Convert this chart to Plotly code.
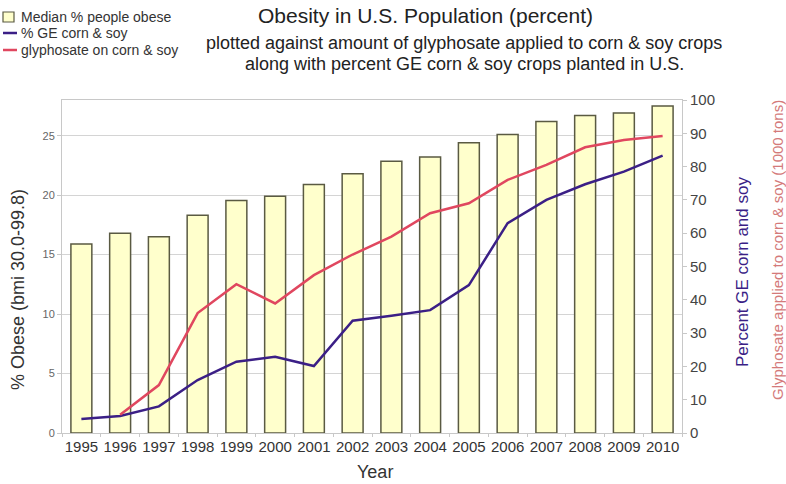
import plotly.graph_objects as go

years = [str(y) for y in range(1995, 2011)]
obese_pct = [15.9, 16.8, 16.5, 18.3, 19.55, 19.9, 20.9, 21.8,
             22.85, 23.2, 24.4, 25.1, 26.2, 26.7, 26.9, 27.5]
ge_pct = [4.2, 5.1, 8.0, 15.9, 21.4, 22.9, 20.1, 33.7,
          35.2, 36.9, 44.4, 63.0, 70.0, 74.7, 78.5, 83.3]
glyphosate_years = years[1:]
glyphosate_kt = [5.5, 14.4, 36.0, 44.7, 38.9, 47.4, 53.6, 59.0,
                 66.0, 69.0, 76.0, 80.5, 85.8, 88.0, 89.2]
series_names = ["Median % people obese", "% GE corn & soy", "glyphosate on corn & soy"]

FONT = "Liberation Sans"
PURPLE = "#3b1f86"
RED = "#e0475f"
BAR_FILL = "#ffffcc"
BAR_EDGE = "#5a5a42"

W, H = 786, 484
ML, MR, MT, MB = 62, 104, 100, 51
PW, PH = W - ML - MR, H - MT - MB


def px(x):
    """pixel column -> paper x"""
    return (x - ML) / PW


def py(y):
    """pixel row (from top) -> paper y"""
    return (H - MB - y) / PH


fig = go.Figure()
fig.add_trace(go.Bar(
    x=years, y=obese_pct, name=series_names[0],
    marker=dict(color=BAR_FILL, line=dict(color=BAR_EDGE, width=1.5)),
    yaxis="y",
))
fig.add_trace(go.Scatter(
    x=years, y=ge_pct, name=series_names[1], mode="lines",
    line=dict(color=PURPLE, width=2.5), yaxis="y2",
))
fig.add_trace(go.Scatter(
    x=glyphosate_years, y=glyphosate_kt, name=series_names[2],
    mode="lines", line=dict(color=RED, width=2.5), yaxis="y2",
))

# compact legend block in the top-left corner
legend_rows = [17, 33, 50]
shapes = [
    dict(type="rect", xref="paper", yref="paper",
         x0=px(3), x1=px(14), y0=py(22), y1=py(12),
         fillcolor=BAR_FILL, line=dict(color=BAR_EDGE, width=1.2)),
    dict(type="line", xref="paper", yref="paper",
         x0=px(3), x1=px(17), y0=py(legend_rows[1]), y1=py(legend_rows[1]),
         line=dict(color=PURPLE, width=2.5)),
    dict(type="line", xref="paper", yref="paper",
         x0=px(3), x1=px(17), y0=py(legend_rows[2]), y1=py(legend_rows[2]),
         line=dict(color=RED, width=2.5)),
]
annotations = [
    dict(text=name, xref="paper", yref="paper", x=px(19), y=py(row),
         xanchor="left", yanchor="middle", showarrow=False,
         font=dict(size=14, color="#333333"))
    for name, row in zip(series_names, legend_rows)
]

annotations += [
    dict(text="Obesity in U.S. Population (percent)",
         xref="paper", yref="paper", x=px(425), y=py(15),
         xanchor="center", yanchor="middle", showarrow=False,
         font=dict(size=21, color="#222222")),
    dict(text="plotted against amount of glyphosate applied to corn & soy crops",
         xref="paper", yref="paper", x=px(464), y=py(43),
         xanchor="center", yanchor="middle", showarrow=False,
         font=dict(size=18, color="#222222")),
    dict(text="along with percent GE corn & soy crops planted in U.S.",
         xref="paper", yref="paper", x=px(464), y=py(64),
         xanchor="center", yanchor="middle", showarrow=False,
         font=dict(size=18, color="#222222")),
    dict(text="% Obese (bmi 30.0-99.8)",
         xref="paper", yref="paper", x=px(18), y=py(290),
         xanchor="center", yanchor="middle", showarrow=False,
         textangle=-90, font=dict(size=18, color="#333333")),
    dict(text="Percent GE corn and soy",
         xref="paper", yref="paper", x=px(742), y=py(272),
         xanchor="center", yanchor="middle", showarrow=False,
         textangle=-90, font=dict(size=17, color=PURPLE)),
    dict(text="Glyphosate applied to corn & soy (1000 tons)",
         xref="paper", yref="paper", x=px(778), y=py(250),
         xanchor="center", yanchor="middle", showarrow=False,
         textangle=-90, font=dict(size=15, color="#d47a7a")),
    dict(text="Year",
         xref="paper", yref="paper", x=px(375), y=py(472),
         xanchor="center", yanchor="middle", showarrow=False,
         font=dict(size=18, color="#333333")),
]

fig.update_layout(
    width=W, height=H,
    margin=dict(l=ML, r=MR, t=MT, b=MB, autoexpand=False),
    paper_bgcolor="white", plot_bgcolor="white",
    font=dict(family=FONT, color="#333333"),
    bargap=0.46,
    showlegend=False,
    xaxis=dict(
        type="category", tickangle=0,
        showline=True, linecolor="#c8c8c8", linewidth=1, mirror=True,
        ticks="outside", tickson="boundaries", ticklen=3, tickcolor="#c8c8c8",
        tickfont=dict(size=15, color="#333333"),
        showgrid=False,
    ),
    yaxis=dict(
        range=[0, 28], dtick=5,
        showline=True, linecolor="#c8c8c8", linewidth=1,
        ticks="outside", ticklen=4, tickcolor="#c8c8c8",
        tickfont=dict(size=11, color="#666666"),
        showgrid=True, gridcolor="#d4d4d4", gridwidth=1,
        zeroline=False,
    ),
    yaxis2=dict(
        overlaying="y", side="right", range=[0, 100], dtick=10,
        showline=True, linecolor="#c8c8c8", linewidth=1,
        ticks="outside", ticklen=4, tickcolor="#c8c8c8",
        tickfont=dict(size=15, color="#444444"),
        showgrid=False, zeroline=False,
    ),
    shapes=shapes,
    annotations=annotations,
)

fig.write_html("out.html")
